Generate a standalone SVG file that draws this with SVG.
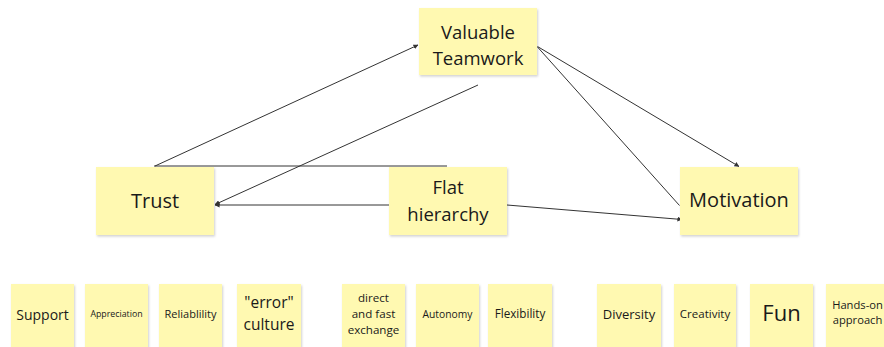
<svg xmlns="http://www.w3.org/2000/svg" width="884" height="347" viewBox="0 0 884 347">
  <defs>
    <filter id="shadow" x="-10%" y="-10%" width="130%" height="130%">
      <feDropShadow dx="1" dy="1.5" stdDeviation="1" flood-color="#000" flood-opacity="0.18"/>
    </filter>
    <marker id="arrow" viewBox="0 0 6 6" refX="5.5" refY="3" markerWidth="5" markerHeight="5" orient="auto" markerUnits="userSpaceOnUse">
      <path d="M0,0 L6,3 L0,6 Z" fill="#333"/>
    </marker>
  </defs>
  <style>
    .note { fill: #fff9b1; filter: url(#shadow); }
    .lbl { font-family: "Open Sans", "Noto Sans", sans-serif; fill: #1a1a1a; text-anchor: middle; }
    .edge { stroke: #333; stroke-width: 1; fill: none; }
    .arr { marker-end: url(#arrow); }
  </style>
  <rect width="884" height="347" fill="#fff"/>

  <!-- connectors -->
  <g id="connectors">
    <line class="edge arr" x1="155" y1="166" x2="418" y2="45"/>
    <line class="edge" x1="154" y1="166" x2="447" y2="166"/>
    <line class="edge arr" x1="478" y1="85" x2="215" y2="204.5"/>
    <line class="edge arr" x1="389" y1="205" x2="215" y2="205"/>
    <line class="edge arr" x1="507" y1="205" x2="682" y2="219.5"/>
    <line class="edge arr" x1="537.5" y1="46.5" x2="739" y2="166.5"/>
    <line class="edge" x1="537.5" y1="47" x2="679.5" y2="205.5"/>
  </g>

  <!-- main nodes -->
  <g id="valuable-teamwork">
    <rect class="note" x="419" y="8" width="118" height="67"/>
    <text class="lbl" font-size="18.5" x="478" y="39">Valuable</text>
    <text class="lbl" font-size="18.5" x="478" y="65">Teamwork</text>
  </g>
  <g id="trust">
    <rect class="note" x="96" y="167" width="118" height="68"/>
    <text class="lbl" font-size="20" x="155" y="207.5">Trust</text>
  </g>
  <g id="flat-hierarchy">
    <rect class="note" x="389" y="167" width="118" height="68"/>
    <text class="lbl" font-size="18.5" x="448" y="193.5">Flat</text>
    <text class="lbl" font-size="18.5" x="448" y="220.5">hierarchy</text>
  </g>
  <g id="motivation">
    <rect class="note" x="680" y="167" width="118" height="68"/>
    <text class="lbl" font-size="20" x="739" y="207">Motivation</text>
  </g>

  <!-- supporting factors -->
  <g id="support">
    <rect class="note" x="11" y="284" width="63" height="64"/>
    <text class="lbl" font-size="14" x="42.5" y="319.5">Support</text>
  </g>
  <g id="appreciation">
    <rect class="note" x="85" y="284" width="63" height="64"/>
    <text class="lbl" font-size="8.8" x="116.5" y="317">Appreciation</text>
  </g>
  <g id="reliability">
    <rect class="note" x="159" y="284" width="63" height="64"/>
    <text class="lbl" font-size="11" x="190.5" y="318">Reliablility</text>
  </g>
  <g id="error-culture">
    <rect class="note" x="237" y="284" width="64" height="64"/>
    <text class="lbl" font-size="15.5" x="269" y="307.5">"error"</text>
    <text class="lbl" font-size="15.5" x="269" y="330">culture</text>
  </g>
  <g id="direct-exchange">
    <rect class="note" x="342" y="284" width="63" height="64"/>
    <text class="lbl" font-size="11.6" x="373.5" y="302">direct</text>
    <text class="lbl" font-size="11.6" x="373.5" y="318">and fast</text>
    <text class="lbl" font-size="11.6" x="373.5" y="333.5">exchange</text>
  </g>
  <g id="autonomy">
    <rect class="note" x="416" y="284" width="63" height="64"/>
    <text class="lbl" font-size="10.3" x="447.5" y="318">Autonomy</text>
  </g>
  <g id="flexibility">
    <rect class="note" x="488" y="284" width="64" height="64"/>
    <text class="lbl" font-size="11.7" x="520" y="318">Flexibility</text>
  </g>
  <g id="diversity">
    <rect class="note" x="597" y="284" width="64" height="64"/>
    <text class="lbl" font-size="13" x="629" y="318.5">Diversity</text>
  </g>
  <g id="creativity">
    <rect class="note" x="674" y="284" width="62" height="64"/>
    <text class="lbl" font-size="11.5" x="705" y="318">Creativity</text>
  </g>
  <g id="fun">
    <rect class="note" x="750" y="284" width="63" height="64"/>
    <text class="lbl" font-size="22" x="781.5" y="321">Fun</text>
  </g>
  <g id="hands-on">
    <rect class="note" x="826" y="284" width="63" height="64"/>
    <text class="lbl" font-size="11.2" x="857.5" y="309">Hands-on</text>
    <text class="lbl" font-size="11.2" x="857.5" y="324">approach</text>
  </g>
</svg>
